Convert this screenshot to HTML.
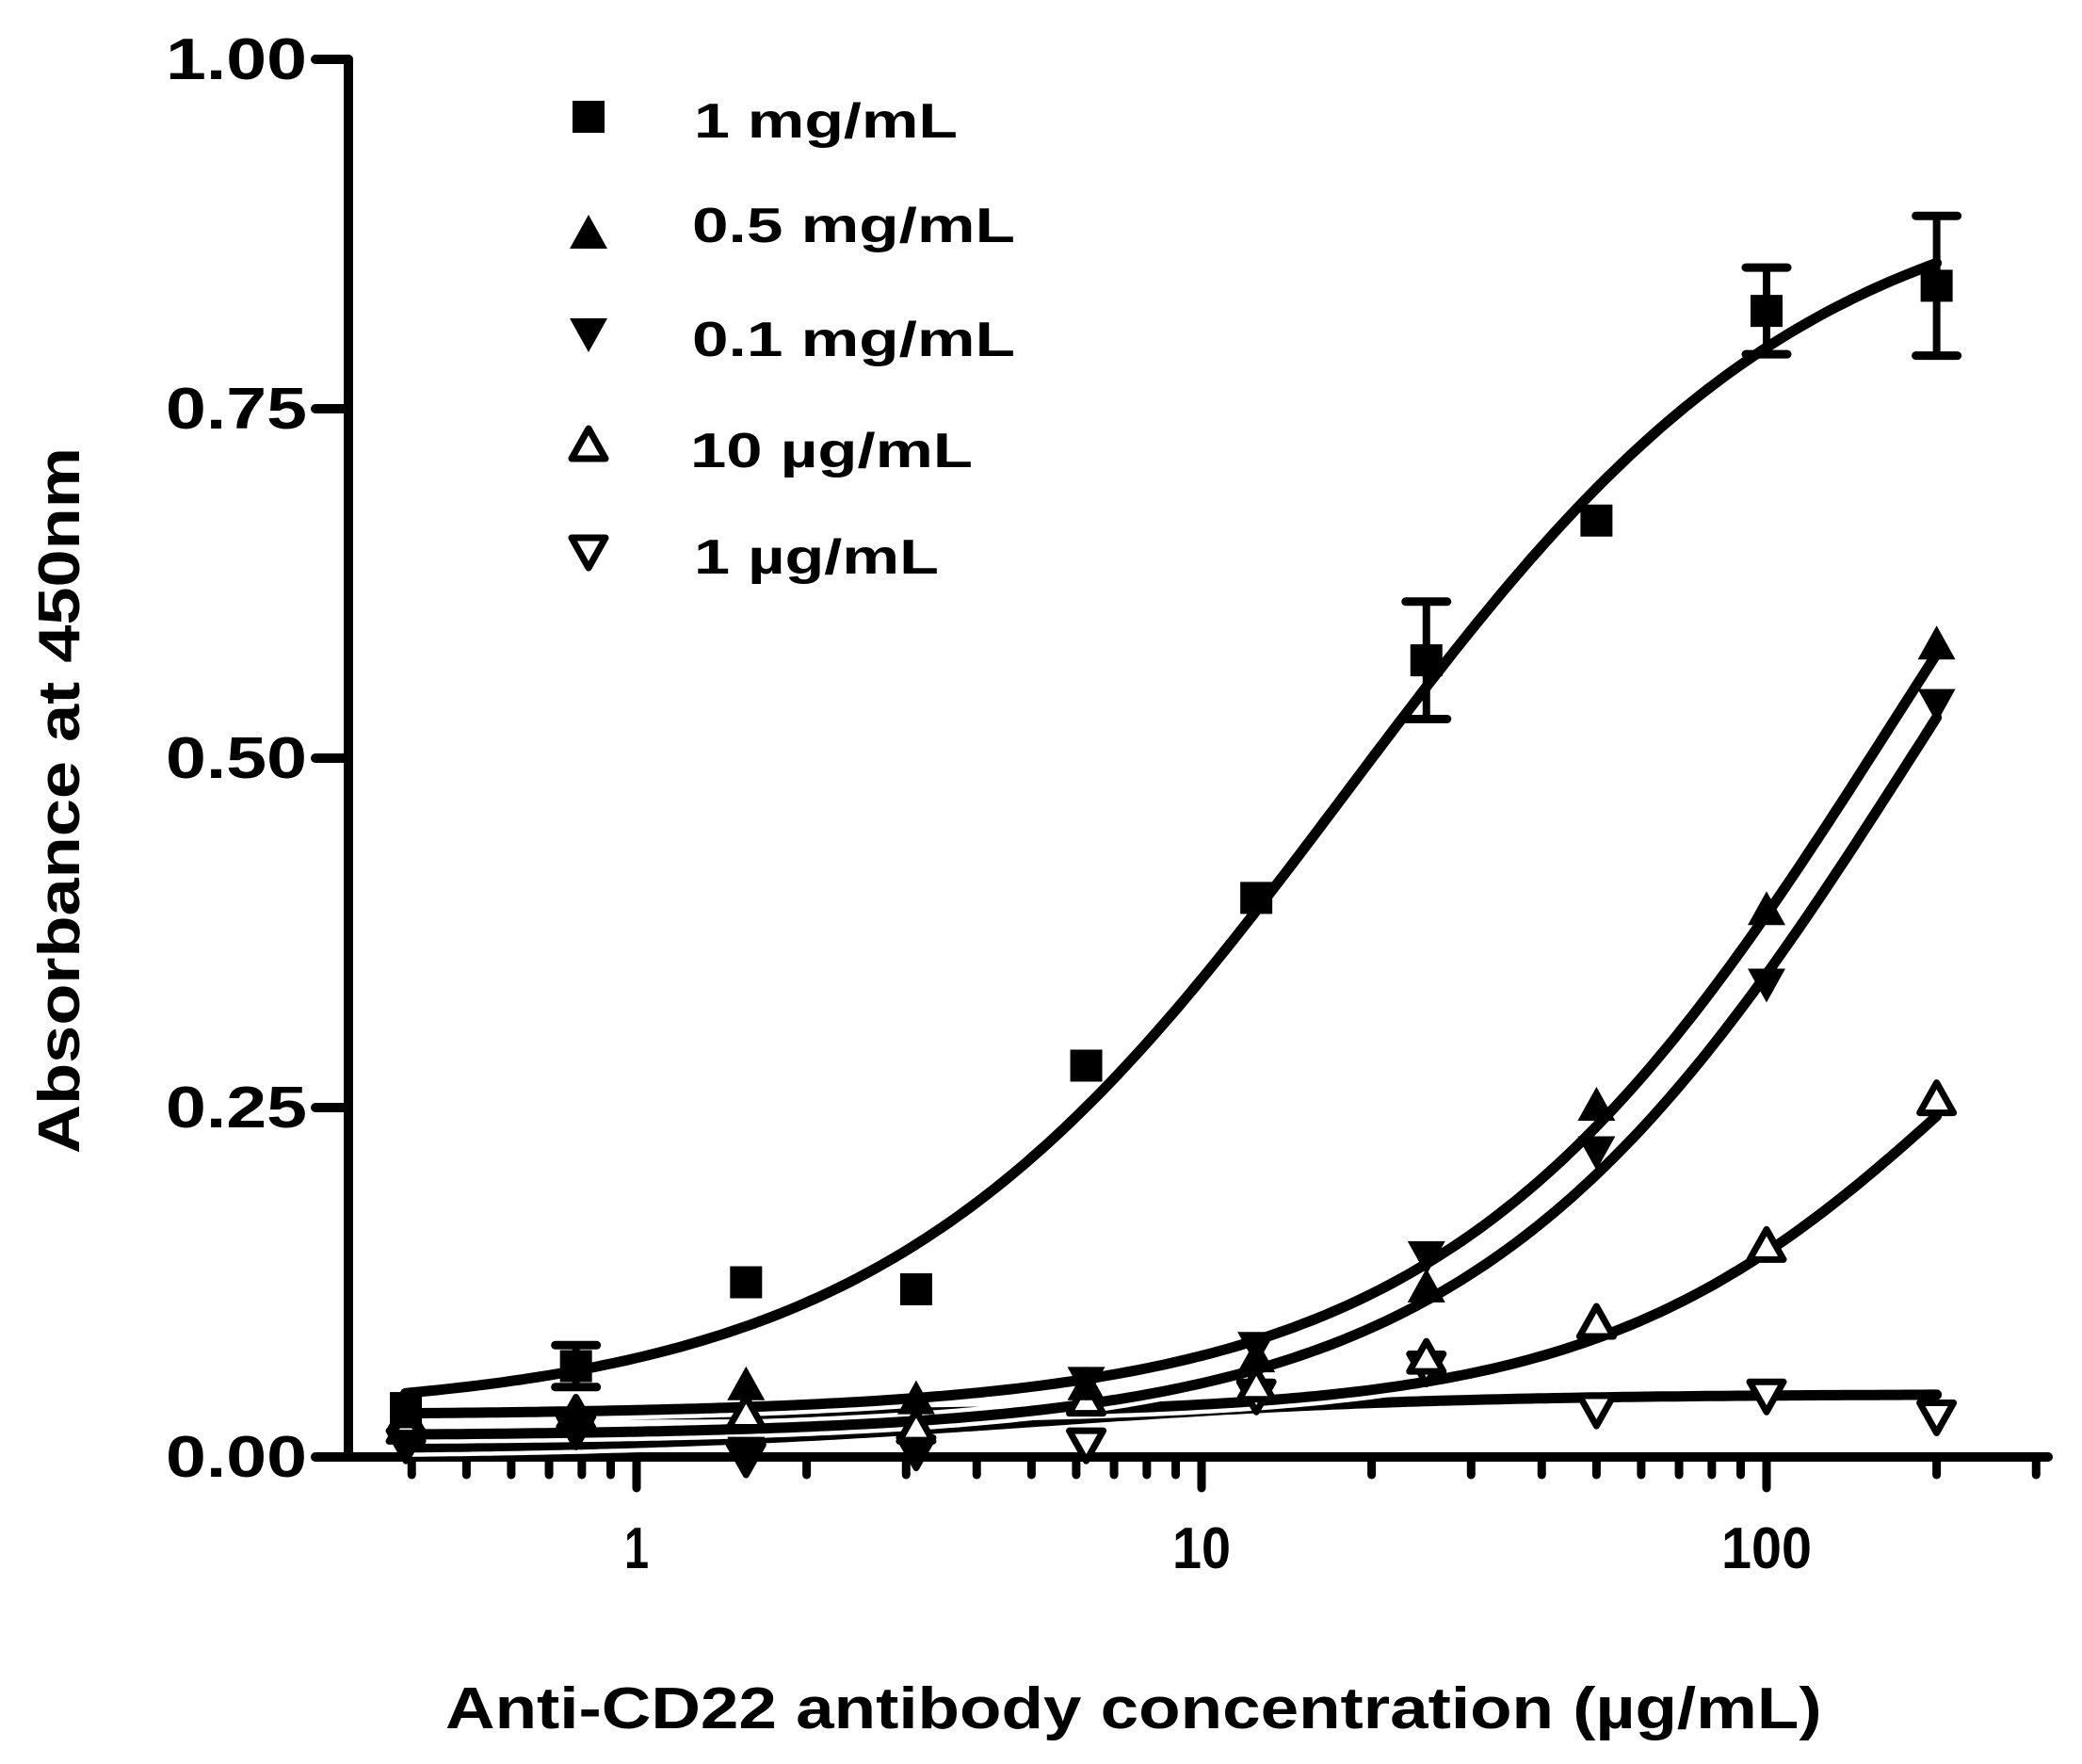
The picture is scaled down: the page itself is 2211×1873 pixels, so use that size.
<!DOCTYPE html>
<html><head><meta charset="utf-8"><style>
html,body{margin:0;padding:0;background:#fff;}
svg{display:block;}
text{font-family:"Liberation Sans",sans-serif;font-weight:bold;fill:#000;}
</style></head><body>
<svg id="s" width="2211" height="1873" viewBox="0 0 2211 1873" xmlns="http://www.w3.org/2000/svg">
<rect width="2211" height="1873" fill="#fff"/>
<g id="axes" stroke="#000" stroke-width="10" stroke-linecap="round" fill="none">
<line x1="370" y1="63" x2="370" y2="1547"/>
<line x1="335" y1="63" x2="370" y2="63"/>
<line x1="335" y1="434" x2="370" y2="434"/>
<line x1="335" y1="805" x2="370" y2="805"/>
<line x1="335" y1="1176" x2="370" y2="1176"/>
<line x1="335" y1="1547" x2="2175" y2="1547"/>
</g>
<g id="ticks" stroke="#000" stroke-width="9" stroke-linecap="round"></g>
<g id="lbl"></g>
<g id="curves" fill="none" stroke-linecap="round"></g>
<g id="pts"></g>
<g id="leg"></g>
</svg>
<script>
var NS="http://www.w3.org/2000/svg";
function X(v){return 676+600*Math.log10(v);}
function Y(a){return 1547-1484*a;}
function el(p,t,at){var e=document.createElementNS(NS,t);for(var k in at)e.setAttribute(k,at[k]);(typeof p=="string"?document.getElementById(p):p).appendChild(e);return e;}
// text: str, anchor x (left/right/center), baseline y, size, target width, align, rotate
function txt(s,x,y,fs,w,al,rot){
 var g=el("lbl","g",{});
 var t=el(g,"text",{x:0,y:0,"font-size":fs});t.textContent=s;
 var L=t.getComputedTextLength();var sx=w/L;
 var off=al=="end"?-w:(al=="middle"?-w/2:0);
 var tr="translate("+x+","+y+")"+(rot?" rotate(-90)":"")+" translate("+off+",0) scale("+sx+",1)";
 g.setAttribute("transform",tr);
}
txt("1.00",326,84,62,150,"end");
txt("0.75",326,455,62,150,"end");
txt("0.50",326,826,62,150,"end");
txt("0.25",326,1197,62,150,"end");
txt("0.00",326,1568,62,150,"end");
txt("1",676,1665,62,26,"middle");
txt("10",1276,1665,62,62,"middle");
txt("100",1876,1665,62,96,"middle");
txt("Anti-CD22 antibody concentration (µg/mL)",1204,1835,62,1462,"middle");
txt("Absorbance at 450nm",84,850,62,750,"middle",true);
txt("1 mg/mL",737,146,52,280,"start");
txt("0.5 mg/mL",735,257,52,343,"start");
txt("0.1 mg/mL",735,378,52,343,"start");
txt("10 µg/mL",733,496,52,300,"start");
txt("1 µg/mL",737,609,52,260,"start");
// ticks
for(var d=-1;d<=2;d++){for(var m=1;m<10;m++){var v=m*Math.pow(10,d);if(v<0.39||v>301)continue;var x=X(v);el("ticks","line",{x1:x,y1:1547,x2:x,y2:(m==1)?1580:1566});}}
function marker(g,type,cx,cy){
 var s=17;
 if(type=="sq")el(g,"rect",{x:cx-s,y:cy-s,width:2*s,height:2*s,fill:"#000"});
 else if(type=="tu")el(g,"polygon",{points:(cx)+","+(cy-22)+" "+(cx-20)+","+(cy+14)+" "+(cx+20)+","+(cy+14),fill:"#000"});
 else if(type=="td")el(g,"polygon",{points:(cx)+","+(cy+22)+" "+(cx-20)+","+(cy-14)+" "+(cx+20)+","+(cy-14),fill:"#000"});
 else if(type=="ou")el(g,"polygon",{points:(cx)+","+(cy-19)+" "+(cx-18)+","+(cy+13)+" "+(cx+18)+","+(cy+13),fill:"#fff",stroke:"#000","stroke-width":7,"stroke-linejoin":"round"});
 else if(type=="od")el(g,"polygon",{points:(cx)+","+(cy+19)+" "+(cx-18)+","+(cy-13)+" "+(cx+18)+","+(cy-13),fill:"#fff",stroke:"#000","stroke-width":7,"stroke-linejoin":"round"});
}
var xs=[0.390625,0.78125,1.5625,3.125,6.25,12.5,25,50,100,200];
var series=[
 {t:"od",f:function(x){return 0.005+0.04/(1+Math.pow(5/x,1.2));},y:[0.01,0.02,0.0,0.005,0.01,0.045,0.065,0.035,0.045,0.03]},
 {t:"ou",f:function(x){return 0.03+0.5/(1+Math.pow(250/x,1.3));},y:[0.02,0.03,0.03,0.02,0.04,0.05,0.07,0.095,0.15,0.255]},
 {t:"td",f:function(x){return 0.015+1.0/(1+Math.pow(190/x,1.1));},y:[0.01,0.02,0.005,0.005,0.055,0.08,0.145,0.22,0.34,0.54]},
 {t:"tu",f:function(x){return 0.03+1.0/(1+Math.pow(170/x,1.1));},y:[0.03,0.03,0.05,0.04,0.05,0.07,0.12,0.25,0.39,0.58]},
 {t:"sq",f:function(x){return 0.03+0.89/(1+Math.pow(18/x,1.05));},y:[0.035,0.065,0.125,0.12,0.28,0.40,0.57,0.67,0.82,0.838],e:{1:0.015,6:0.042,8:0.031,9:0.05}}
];
series.forEach(function(s){
 var d="";for(var i=0;i<=200;i++){var lx=Math.log10(0.39)+(Math.log10(200)-Math.log10(0.39))*i/200;var x=Math.pow(10,lx);d+=(i?"L":"M")+X(x).toFixed(1)+","+Y(s.f(x)).toFixed(1);}
 el("curves","path",{d:d,stroke:"#fff","stroke-width":20});
 el("curves","path",{d:d,stroke:"#000","stroke-width":11});
});
series.forEach(function(s){
 xs.forEach(function(x,i){
  var cx=X(x),cy=Y(s.y[i]);
  if(s.e&&s.e[i]){var e=s.e[i]*1484;el("pts","line",{x1:cx,y1:cy-e,x2:cx,y2:cy+e,stroke:"#000","stroke-width":8});
   el("pts","line",{x1:cx-22,y1:cy-e,x2:cx+22,y2:cy-e,stroke:"#000","stroke-width":9,"stroke-linecap":"round"});
   el("pts","line",{x1:cx-22,y1:cy+e,x2:cx+22,y2:cy+e,stroke:"#000","stroke-width":9,"stroke-linecap":"round"});}
  marker("pts",s.t,cx,cy);
 });
});
marker("leg","sq",625,124);
marker("leg","tu",625,250);
marker("leg","td",625,352);
marker("leg","ou",625,474);
marker("leg","od",625,584);
</script>
</body></html>
